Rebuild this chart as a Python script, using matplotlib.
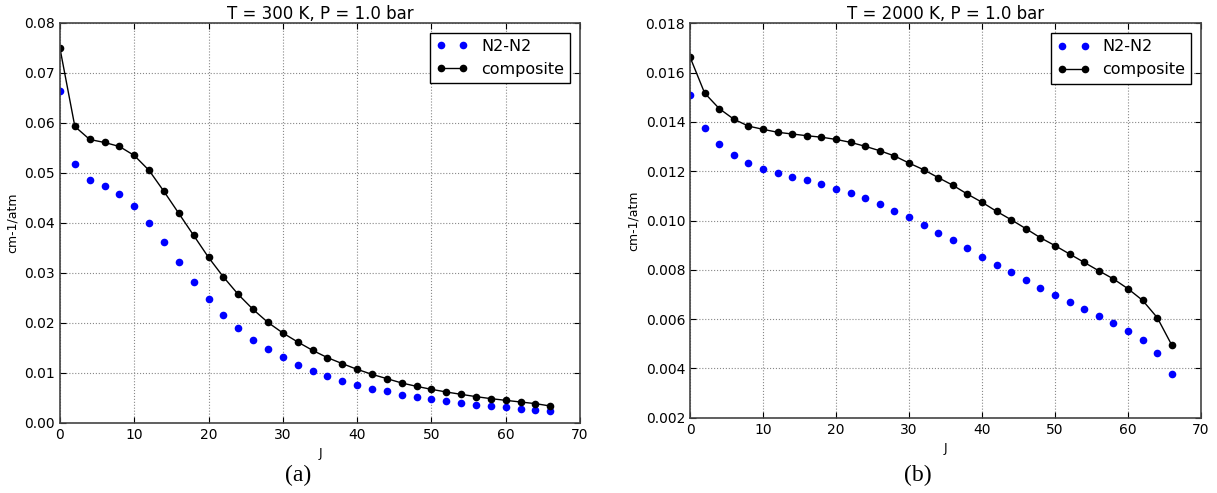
import matplotlib
matplotlib.use("Agg")
import matplotlib.pyplot as plt

# J values (even rotational levels)
J = list(range(0, 68, 2))

# T = 300 K
n2_300 = [0.0664, 0.0518, 0.0486, 0.0473, 0.0457, 0.0433, 0.0399, 0.0361, 0.0321, 0.0282,
          0.0247, 0.0215, 0.0189, 0.0165, 0.0147, 0.0131, 0.0115, 0.01033, 0.00933, 0.00833,
          0.00767, 0.00687, 0.00633, 0.00567, 0.0052, 0.0048, 0.00433, 0.0040, 0.00367,
          0.00333, 0.00313, 0.00287, 0.00267, 0.00233]
comp_300 = [0.0749, 0.0593, 0.0567, 0.0561, 0.0553, 0.0535, 0.0505, 0.0463, 0.0419, 0.0375,
            0.0331, 0.0292, 0.0257, 0.0227, 0.0201, 0.0180, 0.0162, 0.01453, 0.01307, 0.01187,
            0.01073, 0.00973, 0.00887, 0.0080, 0.00733, 0.00673, 0.0062, 0.00573, 0.00527,
            0.00487, 0.00453, 0.0042, 0.00387, 0.0034]

# T = 2000 K
n2_2000 = [0.0151, 0.01374, 0.0131, 0.01267, 0.01233, 0.01209, 0.01193, 0.01176, 0.01163,
           0.01147, 0.01129, 0.0111, 0.0109, 0.01067, 0.0104, 0.01013, 0.00982, 0.0095,
           0.0092, 0.00887, 0.00853, 0.00819, 0.0079, 0.00757, 0.00726, 0.00697, 0.00669,
           0.0064, 0.00613, 0.00583, 0.00553, 0.00516, 0.00462, 0.00376]
comp_2000 = [0.01663, 0.01517, 0.01454, 0.01411, 0.01383, 0.0137, 0.01358, 0.01351, 0.01344,
             0.01338, 0.01329, 0.01317, 0.01301, 0.01283, 0.01262, 0.01233, 0.01206, 0.01174,
             0.01143, 0.01107, 0.01074, 0.01037, 0.01003, 0.00967, 0.0093, 0.00898, 0.00864,
             0.0083, 0.00796, 0.00763, 0.00723, 0.00676, 0.00606, 0.00494]

fig = plt.figure(figsize=(12.17, 4.93), dpi=100)

panels = [
    ([0.0493, 0.142, 0.4273, 0.8114], n2_300, comp_300, "T = 300 K, P = 1.0 bar",
     (0, 0.08), [0.0, 0.01, 0.02, 0.03, 0.04, 0.05, 0.06, 0.07, 0.08], "%.2f", "(a)", 298),
    ([0.567, 0.1527, 0.4199, 0.800], n2_2000, comp_2000, "T = 2000 K, P = 1.0 bar",
     (0.002, 0.018), [0.002, 0.004, 0.006, 0.008, 0.010, 0.012, 0.014, 0.016, 0.018], "%.3f", "(b)", 918),
]

for rect, n2, comp, title, ylim, yticks, fmt, tag, tag_x in panels:
    ax = fig.add_axes(rect)
    ax.plot(J, n2, "o", color="#0000ff", markersize=5.5, markeredgewidth=0, label="N2-N2")
    ax.plot(J, comp, "o-", color="black", markersize=5.5, markeredgewidth=0, linewidth=1,
            label="composite")
    ax.set_xlim(0, 70)
    ax.set_ylim(*ylim)
    ax.set_xticks(range(0, 80, 10))
    ax.set_yticks(yticks)
    ax.set_yticklabels([fmt % v for v in yticks])
    ax.grid(True, linestyle=":", color="#888888", linewidth=0.8)
    ax.tick_params(direction="in", top=True, right=True, labelsize=10, length=4)
    for s in ax.spines.values():
        s.set_color("#444444")
        s.set_linewidth(1.2)
    ax.set_title(title, fontsize=12, pad=3)
    ax.set_xlabel("J", fontsize=9, labelpad=4)
    ax.set_ylabel("cm-1/atm", fontsize=9)
    leg = ax.legend(loc="upper right", numpoints=2, fontsize=11.5, fancybox=False,
                    framealpha=1, borderaxespad=0.6, handlelength=2.0)
    leg.get_frame().set_edgecolor("black")
    fig.text(tag_x / 1217, 1 - 475 / 493, tag, family="Liberation Serif", fontsize=17,
             ha="center", va="center")

fig.savefig("out.png", dpi=100, facecolor="white")
